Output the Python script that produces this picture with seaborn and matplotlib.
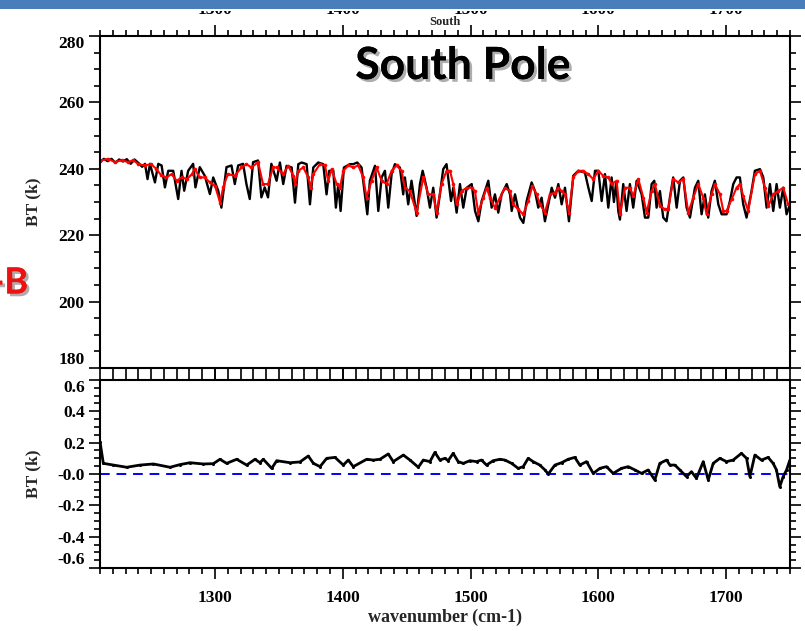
import matplotlib
matplotlib.use("Agg")
import matplotlib.pyplot as plt
import matplotlib.patheffects as pe
from matplotlib.patches import Rectangle
from matplotlib.ticker import MultipleLocator, FixedLocator, FixedFormatter
import seaborn as sns
import pandas as pd

# ---------------- data ----------------
black_wn = [1210, 1213, 1216, 1219, 1222, 1225, 1228, 1231, 1234, 1237, 1240, 1243,
            1245.2, 1247.2, 1249.1, 1253.0, 1255.6, 1258.2, 1260.8, 1263.4, 1267.3, 1271.2,
            1273.8, 1275.9, 1279.0, 1282.9, 1284.7, 1288.1, 1292.0, 1296.0, 1298.6, 1302.5,
            1305.0, 1309.0, 1312.9, 1315.5, 1318.1, 1322.0, 1324.6, 1327.2, 1329.8, 1333.7,
            1336.3, 1338.9, 1341.5, 1344.1, 1348.2, 1350.8, 1353.4, 1356.0, 1360.0, 1362.6,
            1365.2, 1367.8, 1371.7, 1374.3, 1376.9, 1380.8, 1384.7, 1387.3, 1389.4, 1392.6,
            1394.6, 1396.5, 1398.3, 1400.9, 1405.6, 1408.2, 1411.3, 1414.7, 1419.2, 1421.2,
            1425.2, 1427.8, 1430.4, 1433.0, 1435.6, 1438.2, 1440.8, 1444.7, 1447.3, 1448.6,
            1451.2, 1453.8, 1457.8, 1460.4, 1462.5, 1465.6, 1468.2, 1470.8, 1473.4, 1476.0,
            1478.6, 1481.2, 1484.7, 1486.5, 1489.1, 1491.7, 1494.3, 1497.0, 1500.9, 1503.5,
            1506.1, 1508.7, 1511.3, 1513.9, 1516.5, 1519.1, 1521.7, 1524.3, 1528.3, 1530.9,
            1532.2, 1534.8, 1538.7, 1541.3, 1543.9, 1547.8, 1550.4, 1553.0, 1555.6, 1558.2,
            1560.9, 1563.5, 1566.1, 1568.7, 1571.3, 1573.9, 1577.0, 1580.4, 1584.3, 1589.5,
            1592.2, 1594.8, 1597.4, 1600.0, 1602.6, 1605.2, 1607.8, 1610.4, 1612.2, 1614.0,
            1615.6, 1616.9, 1619.5, 1622.1, 1624.7, 1627.3, 1630.0, 1633.9, 1636.5, 1639.1,
            1641.7, 1643.8, 1645.6, 1648.2, 1650.8, 1653.4, 1656.0, 1658.6, 1661.3, 1663.9,
            1666.5, 1669.1, 1671.7, 1675.6, 1678.2, 1680.8, 1683.4, 1686.0, 1688.6, 1691.2,
            1693.9, 1696.5, 1700.4, 1703.0, 1705.6, 1708.2, 1710.8, 1713.4, 1716.0, 1719.9,
            1722.5, 1726.5, 1729.1, 1731.7, 1734.3, 1736.9, 1739.5, 1742.1, 1744.7, 1747.3,
            1750.0]
black_bt = [242.0, 243.0, 242.3, 243.0, 241.8, 242.8, 242.2, 242.9, 241.5, 242.8, 241.8, 240.6,
            241.5, 236.9, 241.5, 235.9, 241.5, 241.0, 234.4, 239.4, 239.4, 230.9,
            239.4, 233.4, 239.4, 241.5, 234.4, 240.5, 237.9, 232.4, 237.4, 233.4,
            228.3, 240.5, 241.0, 235.4, 241.0, 241.5, 235.4, 230.9, 242.0, 242.5,
            231.4, 234.4, 231.4, 241.5, 236.4, 241.9, 235.4, 240.9, 240.4, 229.8,
            241.4, 241.9, 241.4, 229.3, 240.4, 241.9, 241.4, 232.3, 239.4, 239.4,
            228.3, 235.4, 227.3, 240.4, 241.4, 241.4, 241.9, 240.4, 226.3, 236.4,
            240.9, 227.3, 237.4, 239.4, 228.3, 238.4, 241.4, 240.4, 232.3, 237.4,
            229.3, 236.4, 225.8, 235.4, 239.4, 234.3, 228.3, 234.3, 225.3, 232.3,
            239.9, 241.4, 230.3, 234.3, 226.8, 235.4, 228.3, 234.3, 235.4, 227.3,
            224.2, 230.3, 233.3, 236.4, 228.3, 232.3, 226.8, 232.3, 235.4, 232.3,
            227.3, 232.3, 225.3, 223.7, 230.3, 235.9, 233.3, 228.3, 231.3, 224.2,
            229.3, 234.3, 231.3, 235.4, 229.3, 234.3, 224.2, 237.9, 239.4, 238.9,
            234.3, 230.3, 239.4, 239.4, 230.3, 238.4, 228.3, 237.4, 230.0, 236.0,
            227.3, 224.7, 235.4, 227.3, 235.4, 228.3, 236.4, 232.3, 225.3, 225.3,
            235.4, 236.4, 228.3, 233.3, 225.3, 224.2, 231.3, 237.4, 228.3, 236.4,
            237.4, 228.3, 225.3, 234.3, 236.4, 226.3, 232.3, 225.3, 233.3, 236.4,
            229.3, 226.3, 226.3, 230.3, 235.4, 237.4, 237.4, 229.3, 225.3, 233.3,
            239.4, 239.9, 237.4, 228.3, 235.4, 227.3, 235.4, 228.3, 234.3, 226.3,
            229.3]

red_wn = [1210, 1216.5, 1221.7, 1227, 1232, 1236, 1240, 1245, 1250, 1254, 1258, 1262, 1266,
          1270, 1274, 1278, 1282, 1284, 1288, 1292, 1296, 1300, 1304, 1306.4, 1310, 1315.5,
          1320.7, 1324.6, 1328.5, 1333.7, 1337.6, 1341.5, 1345.4, 1348.2, 1353.4, 1357.3,
          1361.3, 1362.6, 1365.2, 1369.1, 1373.0, 1374.8, 1376.9, 1382.1, 1386.0, 1388.6,
          1391.3, 1395.2, 1397.8, 1400.4, 1404.3, 1408.2, 1412.1, 1416.0, 1418.6, 1422.5,
          1426.5, 1430.4, 1434.3, 1438.2, 1442.1, 1446.0, 1448.6, 1452.5, 1457.8, 1463.0,
          1466.9, 1470.8, 1473.4, 1477.3, 1481.2, 1483.9, 1486.5, 1489.1, 1493.0, 1497.0,
          1500.8, 1503.4, 1506.0, 1510.0, 1512.6, 1515.2, 1519.1, 1523.0, 1526.9, 1530.8,
          1533.4, 1537.3, 1541.2, 1545.2, 1548.3, 1551.7, 1554.3, 1558.2, 1562.1, 1566.0,
          1568.6, 1571.2, 1573.9, 1577.0, 1580.4, 1584.3, 1588.2, 1592.1, 1596.0, 1600.0,
          1603.8, 1607.8, 1610.4, 1614.3, 1617.0, 1620.8, 1624.7, 1627.3, 1631.3, 1635.2,
          1637.8, 1641.7, 1644.3, 1648.2, 1652.1, 1654.7, 1658.6, 1662.6, 1666.5, 1670.4,
          1674.3, 1678.2, 1682.1, 1684.7, 1688.6, 1691.2, 1695.2, 1697.8, 1700.4, 1704.3,
          1708.2, 1710.8, 1713.4, 1717.3, 1722.5, 1726.5, 1730.4, 1733.0, 1736.9, 1740.8,
          1744.7, 1748.6]
red_bt = [242.5, 243.0, 242.0, 242.6, 242.0, 242.6, 241.4, 241.0, 241.4, 240.0, 238.0, 237.4, 238.4,
          236.4, 237.4, 236.9, 238.4, 240.0, 237.4, 237.4, 235.9, 234.9, 229.8, 234.4, 238.4, 237.9,
          240.4, 241.4, 240.4, 242.0, 235.4, 235.4, 240.4, 240.4, 238.4, 240.9,
          237.9, 235.4, 239.4, 240.4, 237.4, 234.3, 238.4, 241.4, 241.0, 236.4,
          239.9, 235.4, 234.3, 239.4, 241.0, 240.4, 241.0, 237.4, 231.3, 236.4,
          240.4, 236.4, 235.4, 239.4, 241.0, 239.4, 234.3, 233.3, 226.8, 237.4,
          232.3, 232.3, 226.8, 235.4, 239.4, 239.4, 235.4, 229.3, 233.3, 234.3,
          234.3, 233.3, 226.8, 231.3, 234.3, 231.3, 228.3, 231.3, 234.3, 233.3,
          229.3, 227.8, 226.3, 230.3, 234.8, 232.3, 229.3, 226.8, 232.3, 232.8,
          234.3, 233.3, 232.3, 226.8, 237.4, 239.4, 239.4, 238.4, 236.9, 239.4,
          237.9, 237.4, 235.4, 236.4, 226.3, 234.3, 234.3, 231.8, 236.9, 231.3,
          226.8, 233.3, 235.4, 228.8, 227.8, 227.8, 236.9, 235.9, 236.9, 226.8,
          231.3, 235.4, 231.3, 226.3, 232.3, 235.4, 232.3, 227.3, 227.3, 230.8,
          234.3, 235.4, 231.8, 227.3, 238.4, 239.4, 234.3, 228.8, 232.3, 233.3,
          234.3, 229.3]

diff_wn = [1210.0, 1212.6, 1220.5, 1230.9, 1241.3, 1251.8, 1264.8, 1272.6, 1280.4, 1290.9,
           1298.7, 1303.9, 1309.1, 1317.0, 1324.8, 1331.3, 1335.2, 1337.8, 1344.4, 1348.3,
           1358.7, 1366.5, 1373.0, 1377.0, 1382.2, 1387.4, 1393.9, 1400.4, 1404.3, 1408.2,
           1418.7, 1423.9, 1429.1, 1435.6, 1439.5, 1447.4, 1452.6, 1459.1, 1463.0, 1468.2,
           1472.1, 1476.0, 1479.9, 1482.5, 1486.4, 1490.3, 1494.3, 1499.5, 1504.7, 1508.6,
           1512.5, 1517.7, 1523.0, 1526.9, 1532.1, 1537.3, 1541.2, 1545.1, 1549.0, 1554.2,
           1558.2, 1560.8, 1566.0, 1571.2, 1576.4, 1581.6, 1585.5, 1590.8, 1596.0, 1601.2,
           1606.4, 1611.6, 1618.1, 1623.4, 1628.6, 1633.8, 1639.0, 1644.2, 1648.1, 1653.4,
           1656.0, 1659.9, 1663.8, 1669.0, 1672.9, 1676.8, 1682.1, 1686.0, 1689.9, 1695.1,
           1700.3, 1705.5, 1712.0, 1716.0, 1718.6, 1722.5, 1727.7, 1732.9, 1736.8, 1739.4,
           1742.0, 1744.6, 1747.3, 1749.9]
diff_bt = [0.206, 0.068, 0.057, 0.043, 0.057, 0.064, 0.043, 0.060, 0.072, 0.064,
           0.066, 0.094, 0.068, 0.094, 0.057, 0.094, 0.072, 0.094, 0.036, 0.085,
           0.072, 0.077, 0.115, 0.068, 0.047, 0.100, 0.106, 0.057, 0.089, 0.047,
           0.094, 0.089, 0.094, 0.128, 0.079, 0.121, 0.089, 0.043, 0.089, 0.079,
           0.138, 0.089, 0.100, 0.085, 0.132, 0.079, 0.068, 0.085, 0.079, 0.089,
           0.057, 0.085, 0.094, 0.089, 0.068, 0.036, 0.047, 0.100, 0.079, 0.057,
           0.026, 0.000, 0.057, 0.072, 0.094, 0.106, 0.057, 0.079, 0.004, 0.036,
           0.047, 0.004, 0.036, 0.047, 0.026, 0.004, 0.026, -0.038, 0.068, 0.089,
           0.057, 0.057, 0.026, -0.017, 0.015, -0.028, 0.079, -0.038, 0.068, 0.100,
           0.079, 0.089, 0.132, 0.100, -0.017, 0.121, 0.089, 0.106, 0.068, 0.026,
           -0.081, -0.017, 0.026, 0.089]

x_ticks = [1300, 1400, 1500, 1600, 1700]
top_yticks = [180, 200, 220, 240, 260, 280]
bot_yticks = [-0.6, -0.4, -0.2, 0.0, 0.2, 0.4, 0.6]
bot_yticklabels = ["-0.6", "-0.4", "-0.2", "-0.0", "0.2", "0.4", "0.6"]

# ---------------- figure ----------------
sns.set_style("ticks")
plt.rcParams["font.family"] = ["Liberation Serif", "DejaVu Serif"]
plt.rcParams["font.weight"] = "bold"

W, H = 805, 631
fig = plt.figure(figsize=(W / 100, H / 100), dpi=100)
fig.patch.set_facecolor("white")

def fx(px):
    return px / W

def fy(py):
    return 1 - py / H

ax1 = fig.add_axes([fx(100), fy(368), fx(690), (368 - 36) / H])
ax2 = fig.add_axes([fx(100), fy(568), fx(690), (568 - 380) / H])

df_b = pd.DataFrame({"wn": black_wn, "bt": black_bt})
df_r = pd.DataFrame({"wn": red_wn, "bt": red_bt})
df_d = pd.DataFrame({"wn": diff_wn, "bt": diff_bt})

sns.lineplot(data=df_b, x="wn", y="bt", ax=ax1, color="black", lw=1.7,
             estimator=None, sort=False)
sns.lineplot(data=df_r, x="wn", y="bt", ax=ax1, color="red", lw=1.5,
             marker="o", markersize=2.6, markeredgewidth=0,
             estimator=None, sort=False)
ax2.axhline(0, color="blue", lw=1.4, ls=(0, (5, 3.5)))
sns.lineplot(data=df_d, x="wn", y="bt", ax=ax2, color="black", lw=2.0,
             marker="o", markersize=2.2, markeredgewidth=0,
             estimator=None, sort=False)

for ax in (ax1, ax2):
    ax.set_xlim(1210, 1750)
    ax.xaxis.set_major_locator(FixedLocator(x_ticks))
    ax.xaxis.set_minor_locator(MultipleLocator(10))
    for s in ax.spines.values():
        s.set_visible(True)
        s.set_linewidth(1.5)
        s.set_color("black")
    ax.tick_params(which="both", direction="out", top=True, right=True,
                   width=1.2, colors="black", labelsize=12.5)
    ax.tick_params(which="major", length=8)
    ax.tick_params(which="minor", length=4)
    ax.set_xlabel("")
    ax.set_ylabel("")
    ax.grid(False)

# top panel
ax1.set_ylim(180, 280)
ax1.yaxis.set_major_locator(FixedLocator(top_yticks))
ax1.yaxis.set_minor_locator(MultipleLocator(5))
ax1.tick_params(axis="x", labeltop=True, labelbottom=False, pad=5)
ax1.tick_params(axis="y", labelright=False, pad=3)
ax1.set_ylabel("BT (k)", fontsize=12.5, fontweight="bold")
ax1.yaxis.set_label_coords(-0.085, 0.5)

# bottom panel
ax2.set_ylim(-0.6, 0.6)
ax2.yaxis.set_major_locator(FixedLocator(bot_yticks))
ax2.yaxis.set_major_formatter(FixedFormatter(bot_yticklabels))
ax2.yaxis.set_minor_locator(MultipleLocator(0.05))
ax2.tick_params(axis="x", labelbottom=True, labeltop=False, pad=8)
ax2.tick_params(axis="y", labelright=False, pad=3)
ax2.set_ylabel("BT (k)", fontsize=12.5, fontweight="bold")
ax2.yaxis.set_label_coords(-0.085, 0.5)
ax2.set_xlabel("wavenumber (cm-1)", fontsize=13, fontweight="bold")
ax2.xaxis.set_label_coords(0.5, -0.215)

fig.canvas.draw()
for ax in (ax1, ax2):
    for lab in ax.get_xticklabels() + ax.get_yticklabels():
        lab.set_fontweight("bold")
    # end labels sit inside the axis range, as in the original plot
    ylabs = ax.yaxis.get_majorticklabels()
    ylabs[0].set_verticalalignment("bottom")
    ylabs[-1].set_verticalalignment("top")

# texts
fig.text(fx(445), fy(22), "South", fontsize=9, fontweight="bold",
         ha="center", va="center")
shadow = [pe.withSimplePatchShadow(offset=(2, -2), shadow_rgbFace="#777777", alpha=0.6),
          pe.Normal()]
fig.text(fx(463), fy(66), "South Pole", fontfamily=["Lato", "DejaVu Sans"],
         fontweight="bold", fontsize=32, ha="center", va="center",
         color="black", path_effects=shadow)
fig.text(fx(28), fy(283), "-B", fontfamily=["Lato", "DejaVu Sans"],
         fontweight="bold", fontsize=26, ha="right", va="center",
         color="#ee1111", path_effects=shadow)

# slide header bar (clips the top tick labels)
fig.add_artist(Rectangle((0, fy(11)), 1, 11 / H, transform=fig.transFigure,
                         facecolor="white", edgecolor="none", zorder=9))
fig.add_artist(Rectangle((0, fy(9)), 1, 9 / H, transform=fig.transFigure,
                         facecolor="#4a7ebb", edgecolor="none", zorder=10))

fig.savefig("out.png", dpi=100, facecolor="white")
